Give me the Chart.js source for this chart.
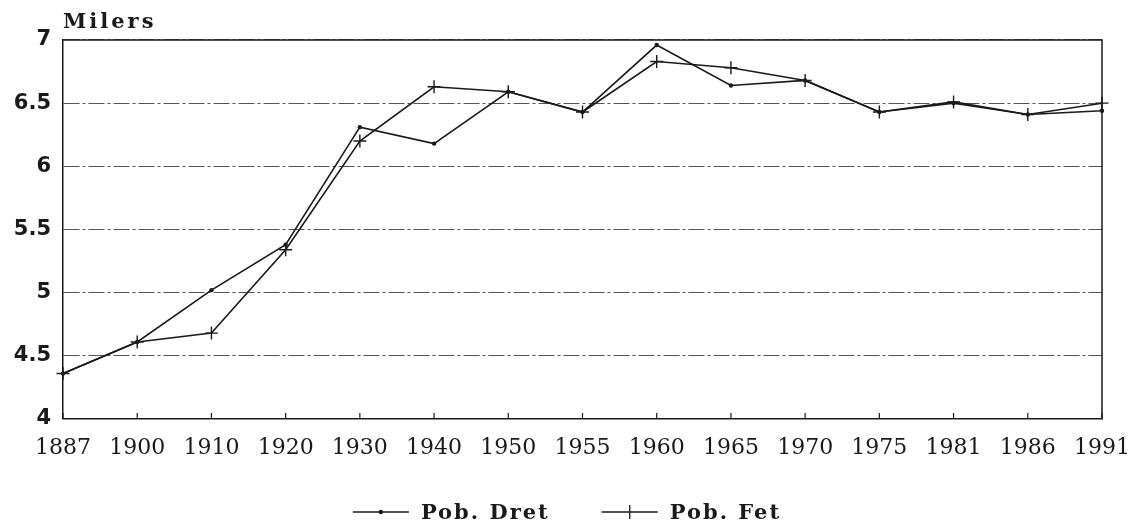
<!DOCTYPE html>
<html>
<head>
<meta charset="utf-8">
<script src="https://cdn.jsdelivr.net/npm/chart.js@4.4.1/dist/chart.umd.min.js"></script>
<style>
    html, body { margin: 0; padding: 0; background: #fff; }
    #wrap { width: 1130px; height: 525px; }
</style>
</head>
<body>
<div id="wrap"><canvas id="myChart" width="1130" height="525"></canvas></div>
<script>
const years = ['1887', '1900', '1910', '1920', '1930', '1940', '1950', '1955', '1960', '1965', '1970', '1975', '1981', '1986', '1991'];
const pobDret = [4.36, 4.61, 5.02, 5.38, 6.31, 6.18, 6.59, 6.43, 6.96, 6.64, 6.68, 6.43, 6.50, 6.41, 6.44];
const pobFet = [4.36, 4.61, 4.68, 5.34, 6.20, 6.63, 6.59, 6.43, 6.83, 6.78, 6.68, 6.43, 6.51, 6.41, 6.50];
const yTicks = [4, 4.5, 5, 5.5, 6, 6.5, 7];
const yTickLabels = ['4', '4.5', '5', '5.5', '6', '6.5', '7'];
const seriesNames = ['Pob. Dret', 'Pob. Fet'];
const unitLabel = 'Milers';

const ink = '#1a1a1a';

// frame, inward x ticks, unit label and legend
const decorPlugin = {
    id: 'decor',
    afterDraw(chart) {
        const { ctx, chartArea: a, scales } = chart;
        ctx.save();
        ctx.strokeStyle = ink;
        ctx.lineWidth = 1.5;
        ctx.beginPath();
        ctx.moveTo(a.left, a.top);
        ctx.lineTo(a.right, a.top);
        ctx.lineTo(a.right, a.bottom);
        ctx.stroke();

        // small tick marks pointing up into the plot
        ctx.lineWidth = 1.2;
        scales.x.ticks.forEach((t, i) => {
            const px = scales.x.getPixelForTick(i);
            ctx.beginPath();
            ctx.moveTo(px, a.bottom);
            ctx.lineTo(px, a.bottom - 6);
            ctx.stroke();
        });

        ctx.fillStyle = ink;
        ctx.font = 'bold 21px "DejaVu Serif"';
        ctx.letterSpacing = '3px';
        ctx.textBaseline = 'alphabetic';
        ctx.textAlign = 'left';
        ctx.fillText(unitLabel, a.left, a.top - 12);

        // legend: line sample with marker, then the name
        ctx.font = 'bold 21px "DejaVu Serif"';
        ctx.letterSpacing = '2px';
        const sampleW = 56, gapA = 12, gapB = 52;
        const widths = chart.data.datasets.map(d => ctx.measureText(d.label).width);
        const total = widths.reduce((s, w) => s + sampleW + gapA + w, 0) + gapB;
        let x = chart.width / 2 - total / 2 + 2;
        const y = 512;
        chart.data.datasets.forEach((d, i) => {
            ctx.strokeStyle = ink;
            ctx.lineWidth = 1.3;
            ctx.beginPath();
            ctx.moveTo(x, y);
            ctx.lineTo(x + sampleW, y);
            ctx.stroke();
            const cx = x + sampleW / 2;
            if (d.pointStyle === 'circle') {
                ctx.beginPath();
                ctx.arc(cx, y, 2.2, 0, Math.PI * 2);
                ctx.fill();
            } else {
                ctx.beginPath();
                ctx.moveTo(cx, y - 7);
                ctx.lineTo(cx, y + 7);
                ctx.stroke();
            }
            ctx.textBaseline = 'middle';
            ctx.fillText(d.label, x + sampleW + gapA, y + 2);
            x += sampleW + gapA + widths[i] + gapB;
        });
        ctx.restore();
    }
};

new Chart(document.getElementById('myChart'), {
    type: 'line',
    data: {
        labels: years,
        datasets: [
            {
                label: seriesNames[0],
                data: pobDret,
                borderColor: ink,
                backgroundColor: ink,
                borderWidth: 1.6,
                pointStyle: 'circle',
                pointRadius: 2.2,
                pointBorderWidth: 0,
                tension: 0
            },
            {
                label: seriesNames[1],
                data: pobFet,
                borderColor: ink,
                backgroundColor: ink,
                borderWidth: 1.6,
                pointStyle: 'cross',
                pointRadius: 6.5,
                pointBorderWidth: 1.4,
                tension: 0
            }
        ]
    },
    options: {
        responsive: false,
        animation: false,
        layout: { padding: { top: 40, right: 28, left: 0, bottom: 0 } },
        plugins: {
            legend: { display: false },
            tooltip: { enabled: false }
        },
        scales: {
            x: {
                offset: false,
                grid: { display: false },
                border: { display: true, color: ink, width: 1.5 },
                ticks: {
                    color: ink,
                    padding: 8,
                    maxRotation: 0,
                    autoSkip: false,
                    font: { family: '"DejaVu Serif"', size: 22 }
                },
                afterFit(scale) {
                    scale.height = 106;
                    scale.paddingLeft = 0;
                    scale.paddingRight = 0;
                }
            },
            y: {
                min: 4,
                max: 7,
                afterBuildTicks(scale) { scale.ticks = yTicks.map(v => ({ value: v })); },
                grid: { color: '#555', lineWidth: 1.1, drawTicks: false },
                border: { display: true, color: ink, width: 1.5, dash: [16, 3, 3, 3] },
                ticks: {
                    color: ink,
                    padding: 12,
                    font: { family: '"DejaVu Sans"', size: 21, weight: 'bold' },
                    callback: (v, i) => yTickLabels[i]
                },
                afterFit(scale) { scale.width = 63; }
            }
        }
    },
    plugins: [decorPlugin]
});
</script>
</body>
</html>
